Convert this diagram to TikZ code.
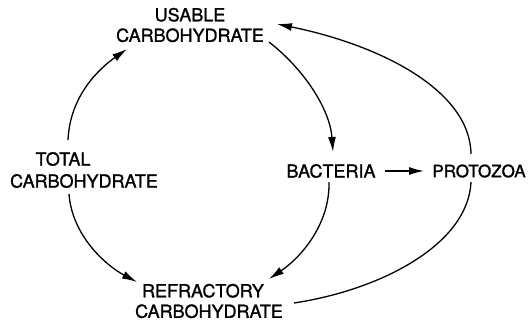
\documentclass[tikz,border=0pt]{standalone}
\usepackage{fontspec}
\setmainfont{TeX Gyre Heros}
\newfontfamily\lblfont{TeX Gyre Heros}[BoldFont={TeX Gyre Heros},BoldFeatures={FakeBold=1.2}]
\usetikzlibrary{arrows.meta}
\begin{document}
\begin{tikzpicture}[x=1pt,y=1pt,
  lbl/.style={align=center,inner sep=0pt,font=\lblfont\bfseries\fontsize{18}{20.5}\selectfont},
  conn/.style={line width=1.3pt,-{Latex[length=15pt,width=8pt]}},
  plain/.style={line width=1.3pt}]
\useasboundingbox (0,0) rectangle (529,322);
\node[lbl] (use) at (190,297) {USABLE\\CARBOHYDRATE};
\node[lbl,font=\lblfont\bfseries\fontsize{18}{22}\selectfont] (tot) at (84,152) {TOTAL\hspace*{42pt}\\CARBOHYDRATE};
\node[lbl] (bac) at (331,151) {BACTERIA};
\node[lbl,font=\lblfont\bfseries\fontsize{17}{20}\selectfont] (pro) at (479,151) {PROTOZOA};
\node[lbl] (ref) at (209,21) {REFRACTORY\hspace*{12pt}\\CARBOHYDRATE};
% total -> usable
\draw[conn] ([shift={(-16,30)}]tot.center) .. controls (70,227) and (100,254) .. ([shift={(-63,-24)}]use.center);
% usable -> bacteria
\draw[conn] ([shift={(79,-17)}]use.center) .. controls (305,252) and (330,212) .. ([shift={(2,19)}]bac.center);
% bacteria -> refractory
\draw[conn] ([shift={(-2,-11)}]bac.center) .. controls (330,97) and (300,64) .. ([shift={(60,22)}]ref.center);
% total -> refractory
\draw[conn] ([shift={(-15,-24)}]tot.center) .. controls (72,87) and (105,57) .. ([shift={(-72,19)}]ref.center);
% bacteria -> protozoa
\draw[conn] ([shift={(54,0)}]bac.center) -- ([shift={(-55,0)}]pro.center);
% refractory -> (past protozoa) -> usable
\draw[plain] ([shift={(85,-2)}]ref.center) .. controls (380,32) and (468,77) .. ([shift={(-8,-11)}]pro.center);
\draw[conn] ([shift={(-8,17)}]pro.center) .. controls (470,232) and (380,277) .. ([shift={(87,1)}]use.center);
\end{tikzpicture}
\end{document}
